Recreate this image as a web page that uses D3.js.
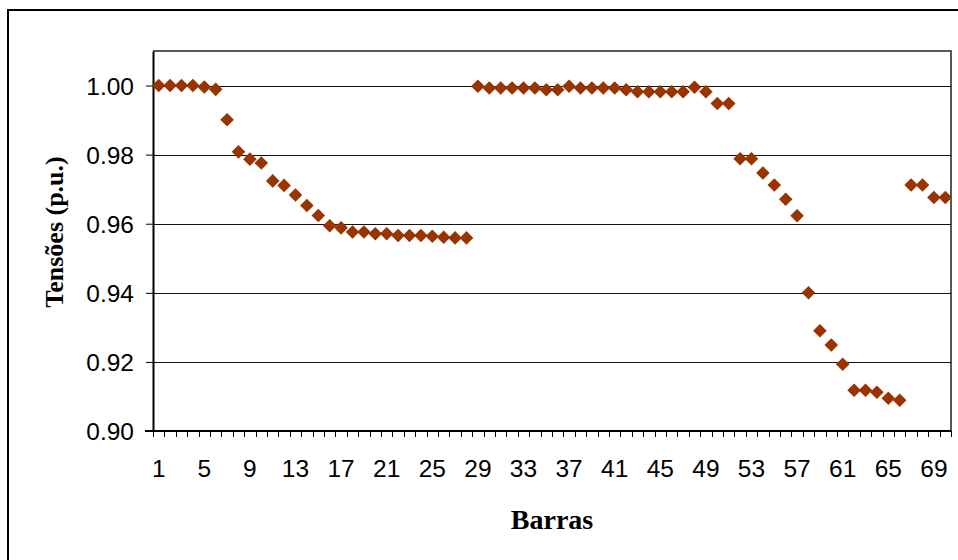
<!DOCTYPE html>
<html>
<head>
<meta charset="utf-8">
<script src="https://cdn.jsdelivr.net/npm/d3@7/dist/d3.min.js"></script>
<style>
  html, body { margin: 0; padding: 0; background: #fff; }
  svg { display: block; }
</style>
</head>
<body>
<svg id="chart" width="958" height="560"></svg>
<script>
// Bus numbers (barras) 1..70
const barras = d3.range(1, 71);

// Voltage magnitude per bus, p.u.
const tensoes = [
  1.0000, 1.0000, 1.0000, 1.0000, 0.9996, 0.9989, 0.9901, 0.9808, 0.9787, 0.9776,
  0.9724, 0.9711, 0.9683, 0.9653, 0.9624, 0.9594, 0.9588, 0.9576, 0.9576, 0.9571,
  0.9571, 0.9566, 0.9566, 0.9566, 0.9564, 0.9561, 0.9559, 0.9559, 0.9998, 0.9993,
  0.9993, 0.9993, 0.9993, 0.9993, 0.9988, 0.9988, 0.9998, 0.9993, 0.9993, 0.9993,
  0.9993, 0.9988, 0.9982, 0.9982, 0.9982, 0.9982, 0.9982, 0.9995, 0.9982, 0.9948,
  0.9948, 0.9788, 0.9788, 0.9747, 0.9712, 0.9671, 0.9623, 0.9400, 0.9290, 0.9249,
  0.9193, 0.9118, 0.9118, 0.9112, 0.9095, 0.9089, 0.9712, 0.9712, 0.9676, 0.9676
];

// Axis tick labels
const xTickLabels = [1, 5, 9, 13, 17, 21, 25, 29, 33, 37, 41, 45, 49, 53, 57, 61, 65, 69];
const yTickValues = [0.90, 0.92, 0.94, 0.96, 0.98, 1.00];

const svg = d3.select("#chart");

const plot = { left: 153, right: 951, top: 51, bottom: 431 };

const x = d3.scaleBand()
  .domain(barras)
  .range([plot.left, plot.right])
  .paddingInner(0)
  .paddingOuter(0);

const y = d3.scaleLinear()
  .domain([0.90, 1.01])
  .range([plot.bottom, plot.top]);

// Outer chart frame
svg.append("rect")
  .attr("x", 8).attr("y", 10)
  .attr("width", 970).attr("height", 570)
  .attr("fill", "#fff")
  .attr("stroke", "#000")
  .attr("stroke-width", 2);

// Plot-area frame (top and right edges)
svg.append("path")
  .attr("d", `M${plot.left},${plot.top}H${plot.right}V${plot.bottom}`)
  .attr("fill", "none")
  .attr("stroke", "#222")
  .attr("stroke-width", 1.5);

// Horizontal gridlines
svg.append("g")
  .selectAll("line")
  .data(yTickValues.filter(v => v > 0.90))
  .join("line")
  .attr("x1", plot.left).attr("x2", plot.right)
  .attr("y1", d => Math.round(y(d)) + 0.5)
  .attr("y2", d => Math.round(y(d)) + 0.5)
  .attr("stroke", "#111")
  .attr("stroke-width", 1);

// Y axis
const yAxis = d3.axisLeft(y)
  .tickValues(yTickValues)
  .tickFormat(d3.format(".2f"))
  .tickSizeInner(7)
  .tickSizeOuter(0)
  .tickPadding(12);

const gy = svg.append("g")
  .attr("transform", `translate(${plot.left},0)`)
  .call(yAxis);
gy.select(".domain").attr("stroke", "#000").attr("stroke-width", 2);
gy.selectAll(".tick line").attr("stroke", "#000").attr("stroke-width", 1);
gy.selectAll(".tick text")
  .attr("font-family", "'Liberation Sans', Arial, sans-serif")
  .attr("font-size", 24.5)
  .attr("fill", "#000")
  .attr("dy", "0.36em");

// X axis: ticks at category boundaries, labels every 4th bus
const gx = svg.append("g")
  .attr("transform", `translate(0,${plot.bottom})`);

gx.append("line")
  .attr("x1", plot.left - 8).attr("x2", plot.right)
  .attr("y1", 0).attr("y2", 0)
  .attr("stroke", "#000")
  .attr("stroke-width", 2);

const boundaries = barras.map(b => x(b)).concat([x(barras[barras.length - 1]) + x.step()]);
gx.selectAll("line.tick")
  .data(boundaries)
  .join("line")
  .attr("class", "tick")
  .attr("x1", d => Math.round(d) + 0.5)
  .attr("x2", d => Math.round(d) + 0.5)
  .attr("y1", 0).attr("y2", 6)
  .attr("stroke", "#000")
  .attr("stroke-width", 1);

gx.selectAll("text.lbl")
  .data(xTickLabels)
  .join("text")
  .attr("class", "lbl")
  .attr("x", d => x(d) + x.bandwidth() / 2)
  .attr("y", 46)
  .attr("text-anchor", "middle")
  .attr("font-family", "'Liberation Sans', Arial, sans-serif")
  .attr("font-size", 24.5)
  .attr("fill", "#000")
  .text(d => d);

// Data markers: rotated squares (diamonds)
const diamond = d3.symbol().type(d3.symbolSquare).size(92);
svg.append("g")
  .selectAll("path")
  .data(barras.map((b, i) => ({ b, v: tensoes[i] })))
  .join("path")
  .attr("d", diamond)
  .attr("transform", d => `translate(${x(d.b) + x.bandwidth() / 2},${y(d.v)}) rotate(45)`)
  .attr("fill", "#993300");

// Axis titles
svg.append("text")
  .attr("x", (plot.left + plot.right) / 2)
  .attr("y", 529)
  .attr("text-anchor", "middle")
  .attr("font-family", "'Liberation Serif', 'Times New Roman', serif")
  .attr("font-weight", "bold")
  .attr("font-size", 28)
  .attr("fill", "#000")
  .text("Barras");

svg.append("text")
  .attr("transform", "translate(63,232) rotate(-90)")
  .attr("text-anchor", "middle")
  .attr("font-family", "'Liberation Serif', 'Times New Roman', serif")
  .attr("font-weight", "bold")
  .attr("font-size", 26)
  .attr("fill", "#000")
  .text("Tensões (p.u.)");
</script>
</body>
</html>
